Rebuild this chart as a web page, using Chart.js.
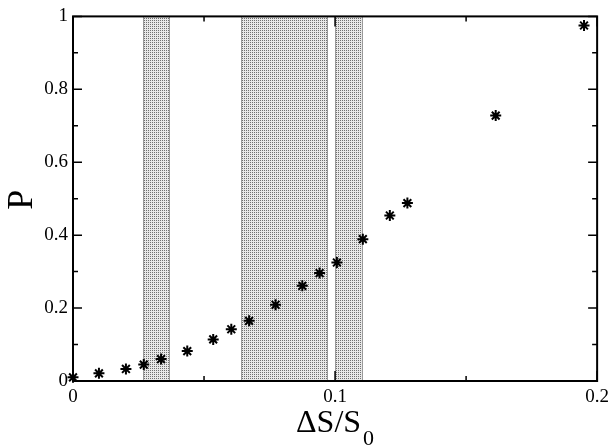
<!DOCTYPE html>
<html>
<head>
<meta charset="utf-8">
<script src="https://cdn.jsdelivr.net/npm/chart.js@4/dist/chart.umd.min.js"></script>
<style>
  html, body { margin: 0; padding: 0; background: #fff; }
  canvas { display: block; }
</style>
</head>
<body>
<canvas id="probChart" width="614" height="447"></canvas>
<script>
// relative step size vs. probability
const dS = [0, 0.0099, 0.0202, 0.027, 0.0336, 0.0436, 0.0535, 0.0604, 0.0672,
            0.0773, 0.0875, 0.0941, 0.1007, 0.1106, 0.1209, 0.1276, 0.1613, 0.195];
const prob = [0.010, 0.021, 0.033, 0.045, 0.060, 0.082, 0.114, 0.142, 0.165,
              0.209, 0.261, 0.296, 0.325, 0.389, 0.454, 0.488, 0.728, 0.975];

// shaded intervals on the x axis
const bandFrom = [0.0267, 0.0640, 0.0999];
const bandTo   = [0.0372, 0.0974, 0.1105];

const xTicks = [0, 0.1, 0.2];
const xMinor = [0.05, 0.15];
const yTicks = [0, 0.2, 0.4, 0.6, 0.8, 1];
const yMinor = [0.1, 0.3, 0.5, 0.7, 0.9];

const serif = "'Liberation Serif', 'DejaVu Serif', serif";

function fmt(v) {
  return String(+Number(v).toFixed(2));
}

function makeStipple(ctx) {
  const c = document.createElement('canvas');
  c.width = 2;
  c.height = 2;
  const g = c.getContext('2d');
  g.fillStyle = '#e8e8e8';
  g.fillRect(0, 0, 2, 2);
  g.fillStyle = '#707070';
  g.fillRect(0, 0, 1, 1);
  return ctx.createPattern(c, 'repeat');
}

const bandsPlugin = {
  id: 'bands',
  beforeDatasetsDraw(chart) {
    const {ctx, scales: {x, y}} = chart;
    const top = y.getPixelForValue(1);
    const bottom = y.getPixelForValue(0);
    ctx.save();
    ctx.fillStyle = makeStipple(ctx);
    ctx.strokeStyle = '#9a9a9a';
    ctx.lineWidth = 1;
    bandFrom.forEach((from, i) => {
      const l = Math.round(x.getPixelForValue(from));
      const r = Math.round(x.getPixelForValue(bandTo[i]));
      ctx.fillRect(l, top, r - l, bottom - top);
      ctx.beginPath();
      ctx.moveTo(l + 0.5, top);
      ctx.lineTo(l + 0.5, bottom);
      ctx.moveTo(r - 0.5, top);
      ctx.lineTo(r - 0.5, bottom);
      ctx.stroke();
    });
    ctx.restore();
  }
};

// box frame with inward ticks on all four sides, plus axis titles
const framePlugin = {
  id: 'frame',
  afterDatasetsDraw(chart) {
    const {ctx, scales: {x, y}} = chart;
    const l = x.getPixelForValue(0), r = x.getPixelForValue(0.2);
    const t = y.getPixelForValue(1), b = y.getPixelForValue(0);
    ctx.save();
    ctx.strokeStyle = '#000';
    ctx.lineWidth = 2;
    ctx.strokeRect(l, t, r - l, b - t);

    ctx.lineWidth = 1.5;
    ctx.beginPath();
    const tickX = (v, len) => {
      const px = x.getPixelForValue(v);
      ctx.moveTo(px, b); ctx.lineTo(px, b - len);
      ctx.moveTo(px, t); ctx.lineTo(px, t + len);
    };
    const tickY = (v, len) => {
      const py = y.getPixelForValue(v);
      ctx.moveTo(l, py); ctx.lineTo(l + len, py);
      ctx.moveTo(r, py); ctx.lineTo(r - len, py);
    };
    xTicks.forEach(v => tickX(v, 10));
    xMinor.forEach(v => tickX(v, 5));
    yTicks.forEach(v => tickY(v, 9));
    yMinor.forEach(v => tickY(v, 5));
    ctx.stroke();
    ctx.restore();
  },
  afterDraw(chart) {
    const {ctx, scales: {x, y}} = chart;
    const cx = (x.getPixelForValue(0) + x.getPixelForValue(0.2)) / 2;
    ctx.save();
    ctx.fillStyle = '#000';
    ctx.textBaseline = 'alphabetic';
    ctx.textAlign = 'left';

    const big = '32px ' + serif, sub = '22px ' + serif;
    ctx.font = big;
    const w1 = ctx.measureText('ΔS/S').width;
    ctx.font = sub;
    const w2 = ctx.measureText('0').width;
    const x0 = cx - (w1 + w2 + 2) / 2;
    ctx.font = big;
    ctx.fillText('ΔS/S', x0, 432);
    ctx.font = sub;
    ctx.fillText('0', x0 + w1 + 2, 445);

    ctx.translate(23, (y.getPixelForValue(0) + y.getPixelForValue(1)) / 2 + 1);
    ctx.rotate(-Math.PI / 2);
    ctx.textAlign = 'center';
    ctx.textBaseline = 'middle';
    ctx.font = '36px ' + serif;
    ctx.fillText('P', 0, 0);
    ctx.restore();
  }
};

const tickFont = {family: serif, size: 19};

new Chart(document.getElementById('probChart'), {
  type: 'scatter',
  data: {
    datasets: [{
      data: dS.map((v, i) => ({x: v, y: prob[i]})),
      pointStyle: 'star',
      radius: 5.5,
      borderWidth: 2,
      borderColor: '#000',
      backgroundColor: '#000',
      clip: false
    }]
  },
  options: {
    responsive: false,
    animation: false,
    devicePixelRatio: 1,
    layout: {padding: {top: 14, right: 15, left: 0, bottom: 0}},
    plugins: {
      legend: {display: false},
      tooltip: {enabled: false}
    },
    scales: {
      x: {
        type: 'linear',
        min: 0,
        max: 0.2,
        grid: {display: false, drawTicks: false},
        border: {display: false},
        afterBuildTicks: s => { s.ticks = xTicks.map(v => ({value: v})); },
        afterFit: s => { s.height = 66; },
        ticks: {color: '#000', font: tickFont, padding: 5, maxRotation: 0, callback: fmt}
      },
      y: {
        min: 0,
        max: 1,
        grid: {display: false, drawTicks: false},
        border: {display: false},
        afterBuildTicks: s => { s.ticks = yTicks.map(v => ({value: v})); },
        afterFit: s => { s.width = 73; },
        ticks: {color: '#000', font: tickFont, padding: 5, callback: fmt}
      }
    }
  },
  plugins: [bandsPlugin, framePlugin]
});
</script>
</body>
</html>
